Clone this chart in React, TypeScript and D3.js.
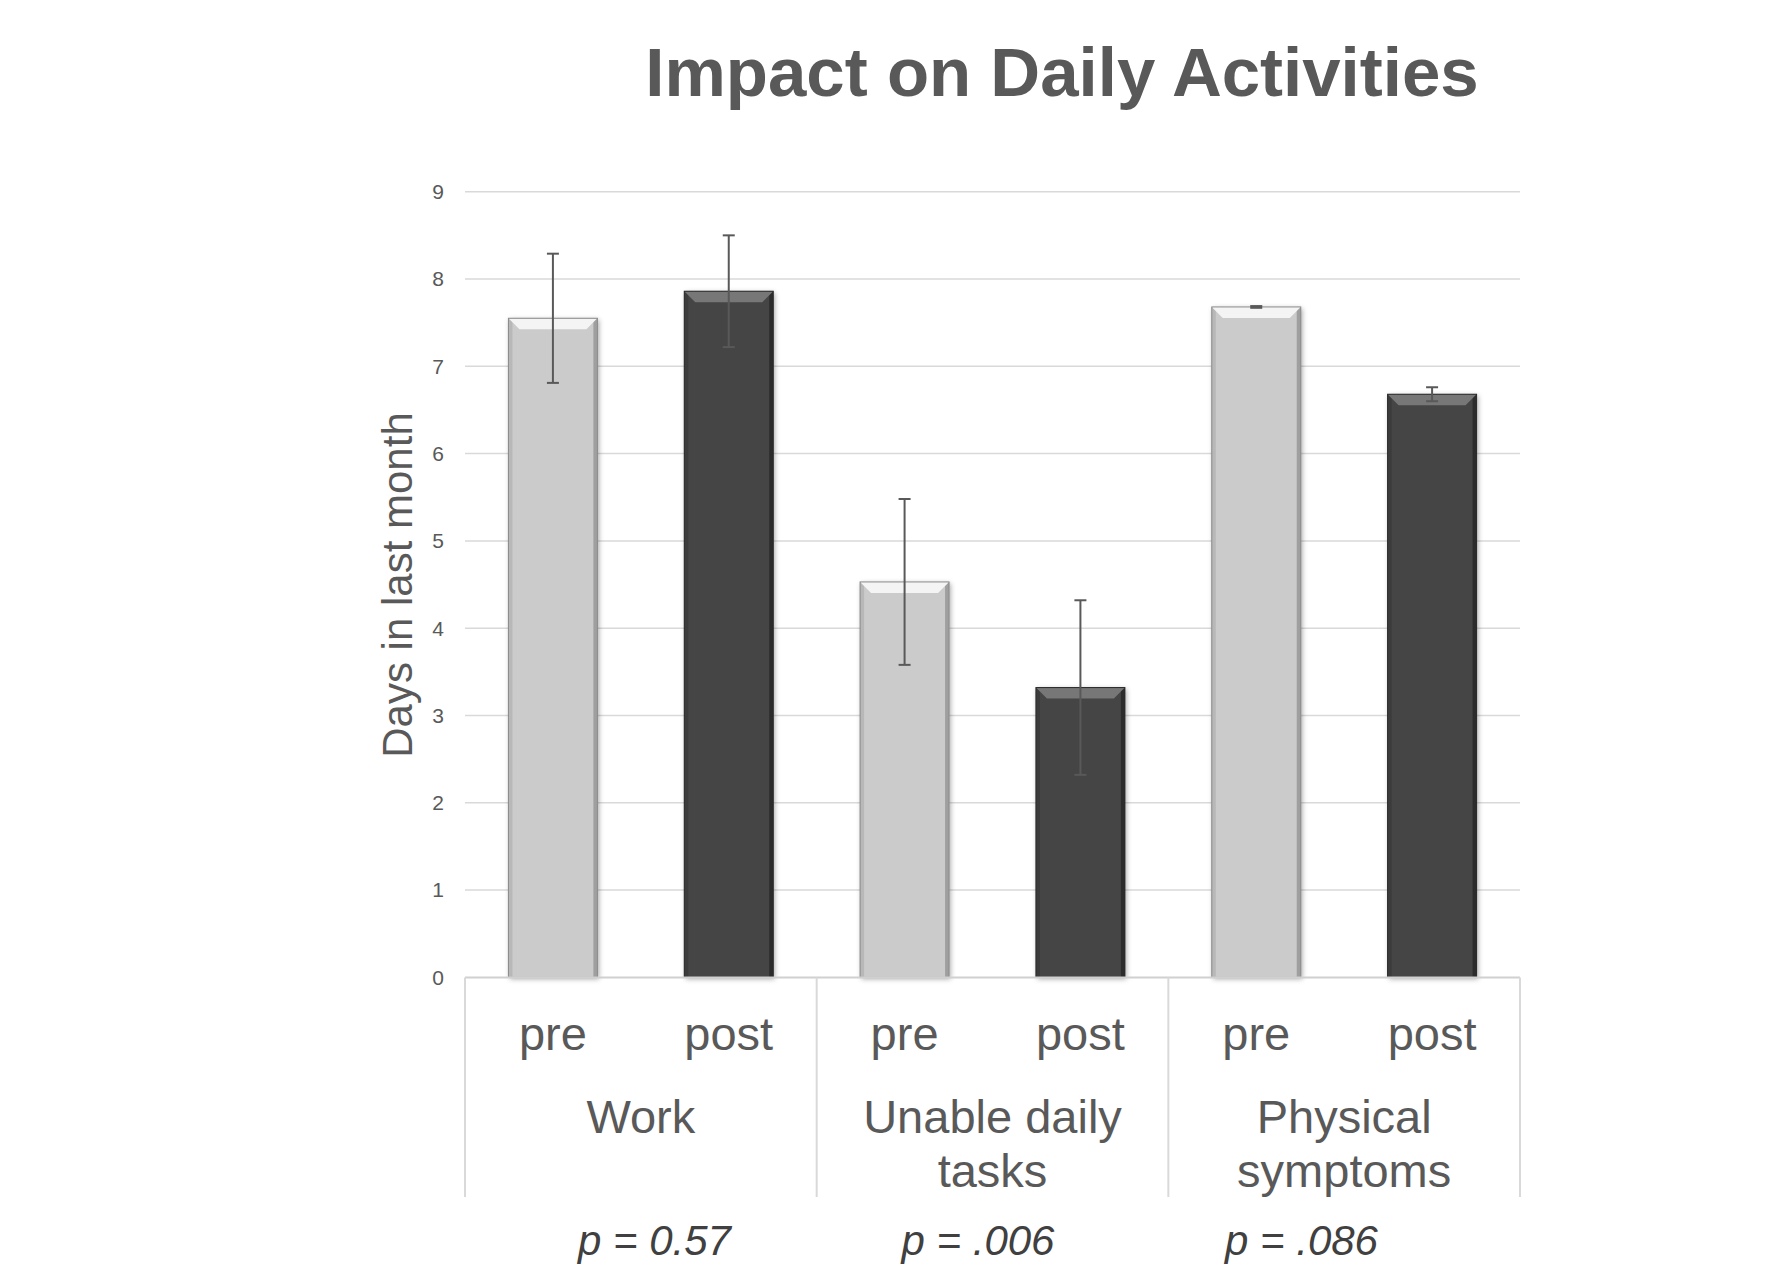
import React from "react";
import * as d3 from "d3";

const title = "Impact on Daily Activities";
const yLabel = "Days in last month";
const categories = ["Work", "Unable daily tasks", "Physical symptoms"];
const categoryLines = [["Work"], ["Unable daily", "tasks"], ["Physical", "symptoms"]];
const phases = ["pre", "post"];
const preMeans = [7.55, 4.53, 7.68];
const postMeans = [7.86, 3.32, 6.68];
const preErr = [0.74, 0.95, 0.01];
const postErr = [0.64, 1.0, 0.08];
const pValues = ["p = 0.57", "p = .006", "p = .086"];
const yTicks = [0, 1, 2, 3, 4, 5, 6, 7, 8, 9];

const W = 1775;
const H = 1280;
const left = 465;
const right = 1520;
const top = 191.7;
const bottom = 977.4;
const textColor = "#595959";
const font = "'Liberation Sans', Arial, sans-serif";

type Bar = { cat: string; phase: string; value: number; err: number; ci: number };

const bars: Bar[] = categories.flatMap((c, i) => [
  { cat: c, phase: "pre", value: preMeans[i], err: preErr[i], ci: i },
  { cat: c, phase: "post", value: postMeans[i], err: postErr[i], ci: i },
]);

const styles: Record<string, { base: string; topFace: string; leftSide: string; rightSide: string; edge: string }> = {
  pre: { base: "#cbcbcb", topFace: "#f4f4f4", leftSide: "#b8b8b8", rightSide: "#9f9f9f", edge: "#8a8a8a" },
  post: { base: "#444444", topFace: "#777777", leftSide: "#3b3b3b", rightSide: "#2c2c2c", edge: "#2a2a2a" },
};

export default function App() {
  const x0 = d3.scaleBand<string>().domain(categories).range([left, right]).padding(0);
  const x1 = d3.scaleBand<string>().domain(phases).range([0, x0.bandwidth()]).padding(0);
  const y = d3.scaleLinear().domain([0, 9]).range([bottom, top]);
  const barW = x1.bandwidth() * 0.506;
  const bev = 11;
  const side = 4;
  const boxBottom = 1197;

  return (
    <svg
      width={W}
      height={H}
      style={{ position: "absolute", left: 0, top: 0, background: "#fff" }}
      fontFamily={font}
    >
      <defs>
        <filter id="shadow" x="-20%" y="-5%" width="140%" height="115%">
          <feDropShadow dx="1.5" dy="1.5" stdDeviation="2.5" floodColor="#000" floodOpacity="0.35" />
        </filter>
      </defs>
      <rect width={W} height={H} fill="#fff" />
      <text x={1062} y={96} textAnchor="middle" fontSize={69} fontWeight="bold" fill={textColor}>
        {title}
      </text>

      {yTicks.map((t) => (
        <g key={t}>
          {t > 0 && (
            <line x1={left} x2={right} y1={y(t)} y2={y(t)} stroke="#d9d9d9" strokeWidth={1.5} />
          )}
          <text x={444} y={y(t)} dy="0.35em" textAnchor="end" fontSize={21} fill={textColor}>
            {t}
          </text>
        </g>
      ))}

      <text
        transform={`translate(${412},${585}) rotate(-90)`}
        textAnchor="middle"
        fontSize={42}
        fill={textColor}
      >
        {yLabel}
      </text>

      {bars.map((b, i) => {
        const cx = (x0(b.cat) as number) + (x1(b.phase) as number) + x1.bandwidth() / 2;
        const bx = cx - barW / 2;
        const by = y(b.value);
        const bh = y(0) - by;
        const s = styles[b.phase];
        return (
          <g key={i}>
            <g filter="url(#shadow)">
              <rect x={bx} y={by} width={barW} height={bh} fill={s.base} />
            </g>
            <rect x={bx} y={by} width={side} height={bh} fill={s.leftSide} />
            <rect x={bx + barW - side} y={by} width={side} height={bh} fill={s.rightSide} />
            <polygon
              points={`${bx},${by} ${bx + barW},${by} ${bx + barW - bev},${by + bev} ${bx + bev},${by + bev}`}
              fill={s.topFace}
            />
            <rect x={bx} y={by} width={barW} height={bh} fill="none" stroke={s.edge} strokeWidth={1} />
          </g>
        );
      })}

      <line x1={left} x2={right} y1={bottom} y2={bottom} stroke="#d0d0d0" strokeWidth={2} />
      {[...categories.map((c) => x0(c) as number), right].map((xv, i) => (
        <line key={i} x1={xv} x2={xv} y1={bottom} y2={boxBottom} stroke="#d9d9d9" strokeWidth={2} />
      ))}

      {bars.map((b, i) => {
        const cx = (x0(b.cat) as number) + (x1(b.phase) as number) + x1.bandwidth() / 2;
        const yt = y(b.value + b.err);
        const yb = y(b.value - b.err);
        return (
          <g key={"e" + i} stroke="#595959" strokeWidth={2}>
            <line x1={cx} x2={cx} y1={yt} y2={yb} />
            <line x1={cx - 6} x2={cx + 6} y1={yt} y2={yt} />
            <line x1={cx - 6} x2={cx + 6} y1={yb} y2={yb} />
          </g>
        );
      })}

      {bars.map((b, i) => {
        const cx = (x0(b.cat) as number) + (x1(b.phase) as number) + x1.bandwidth() / 2;
        return (
          <text key={"l" + i} x={cx} y={1050} textAnchor="middle" fontSize={47} fill={textColor}>
            {b.phase}
          </text>
        );
      })}

      {categories.map((c, i) => (
        <text key={"c" + i} textAnchor="middle" fontSize={47} fill={textColor}>
          {categoryLines[i].map((ln, j) => (
            <tspan key={j} x={(x0(c) as number) + x0.bandwidth() / 2} y={1133 + j * 54}>
              {ln}
            </tspan>
          ))}
        </text>
      ))}

      {pValues.map((p, i) => (
        <text key={"p" + i} x={578 + i * 323.5} y={1255} fontSize={42} fontStyle="italic" fill="#404040">
          {p}
        </text>
      ))}
    </svg>
  );
}
